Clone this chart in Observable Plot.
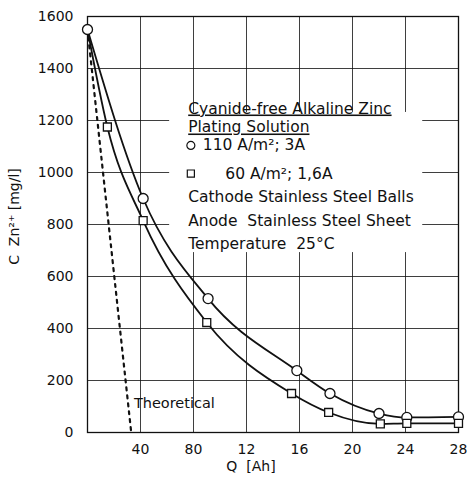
<!DOCTYPE html>
<html><head><meta charset="utf-8">
<script src="https://cdn.jsdelivr.net/npm/d3@7"></script>
<script src="https://cdn.jsdelivr.net/npm/@observablehq/plot@0.6"></script>
<style>body{margin:0;background:#fff} #chart{width:467px;height:481px}</style>
</head><body><div id="chart"></div>
<script>
// Axis ticks
const xTicks = [4, 8, 12, 16, 20, 24, 28];
const xTickLabels = ["40", "80", "12", "16", "20", "24", "28"];
const yTicks = [0, 200, 400, 600, 800, 1000, 1200, 1400, 1600];

// Series: 110 A/m², 3 A (circles)
const q110 = [0, 4.2, 9.1, 15.8, 18.3, 22, 24.1, 28];
const c110 = [1550, 900, 515, 238, 150, 73, 58, 60];
// Series: 60 A/m², 1.6 A (squares); first point is the common start (no marker)
const q60 = [0, 1.5, 4.2, 9.0, 15.4, 18.2, 22.1, 24.1, 28];
const c60 = [1550, 1175, 815, 423, 150, 77, 33, 35, 35];
// Theoretical line
const qTheo = [0, 3.3];
const cTheo = [1550, 0];

// Annotation texts
const legendLines = ["Cyanide-free Alkaline Zinc", "Plating Solution", "Cathode Stainless Steel Balls", "Anode  Stainless Steel Sheet", "Temperature  25°C"];
const legendQ = [7.6, 7.6, 7.6, 7.6, 7.6];
const legendC = [1246, 1173, 904, 812, 723];
const seriesLabels = ["110 A/m²; 3A", "60 A/m²; 1,6A"];
const seriesLabelQ = [8.7, 10.4];
const seriesLabelC = [1104, 996];
const seriesSymbols = ["circle", "square"];
const seriesSymbolQ = [7.8, 7.8];
const theoLabel = ["Theoretical"];
const theoLabelQ = [3.5];
const theoLabelC = [112];
const legendBoxQ = [6.2, 25.3];
const legendBoxC = [692, 1231];
const yLabel = "C  Zn²⁺ [mg/l]";
const xLabel = "Q  [Ah]";

const s110 = q110.map((q, i) => ({q, c: c110[i]}));
const s60 = q60.map((q, i) => ({q, c: c60[i]}));
const theo = qTheo.map((q, i) => ({q, c: cTheo[i]}));
const leg = legendLines.map((t, i) => ({t, q: legendQ[i], c: legendC[i]}));
const serLab = seriesLabels.map((t, i) => ({t, q: seriesLabelQ[i], c: seriesLabelC[i], sq: seriesSymbolQ[i], sym: seriesSymbols[i]}));

const FONT = "'DejaVu Sans', sans-serif";

const chart = Plot.plot({
  width: 467, height: 481,
  marginLeft: 87, marginRight: 9, marginTop: 16, marginBottom: 49,
  style: {fontFamily: FONT, fontSize: "14px", color: "#111", background: "#fff"},
  x: {domain: [0, 28], ticks: xTicks, tickFormat: d => xTickLabels[xTicks.indexOf(d)], tickSize: 0, tickPadding: 12, label: null},
  y: {domain: [0, 1600], ticks: yTicks, tickFormat: d => String(d), tickSize: 0, tickPadding: 14, label: null},
  marks: [
    Plot.gridX(xTicks.slice(0, -1), {stroke: "#111", strokeOpacity: 0.9, strokeWidth: 0.9}),
    Plot.gridY(yTicks.slice(1, -1), {stroke: "#111", strokeOpacity: 0.9, strokeWidth: 0.9}),
    Plot.rect([0], {x1: () => legendBoxQ[0], x2: () => legendBoxQ[1], y1: () => legendBoxC[0], y2: () => legendBoxC[1], fill: "white"}),
    Plot.frame({stroke: "#111", strokeWidth: 1.3}),
    Plot.line(theo, {x: "q", y: "c", stroke: "#111", strokeWidth: 2.2, strokeDasharray: "3,5"}),
    Plot.line(s110, {x: "q", y: "c", curve: "monotone-x", stroke: "#111", strokeWidth: 1.8}),
    Plot.line(s60, {x: "q", y: "c", curve: "monotone-x", stroke: "#111", strokeWidth: 1.8}),
    Plot.dot(s110, {x: "q", y: "c", symbol: "circle", r: 5, fill: "white", stroke: "#111", strokeWidth: 1.3}),
    Plot.dot(s60.slice(1), {x: "q", y: "c", symbol: "square", r: 4.5, fill: "white", stroke: "#111", strokeWidth: 1.3}),
    Plot.text(leg, {x: "q", y: "c", text: "t", textAnchor: "start", fontSize: 15.5, fill: "#111"}),
    Plot.dot(serLab, {x: "sq", y: "c", symbol: "sym", r: 4, fill: "white", stroke: "#111", strokeWidth: 1.2}),
    Plot.text(serLab, {x: "q", y: "c", text: "t", textAnchor: "start", fontSize: 15.5, fill: "#111"}),
    Plot.text(theoLabel, {x: () => theoLabelQ[0], y: () => theoLabelC[0], text: d => d, textAnchor: "start", fontSize: 14.5, fill: "#111"}),
    Plot.text([yLabel], {frameAnchor: "left", textAnchor: "middle", dx: -73, dy: -8, rotate: -90, text: d => d, fontSize: 14, fill: "#111"}),
    Plot.text([xLabel], {frameAnchor: "bottom", textAnchor: "middle", dx: -22, dy: 38, text: d => d, fontSize: 14, fill: "#111"})
  ]
});
document.getElementById("chart").appendChild(chart);
// underline first two heading lines
chart.querySelectorAll("text").forEach(t => {
  if (t.textContent === legendLines[0] || t.textContent === legendLines[1]) t.setAttribute("text-decoration", "underline");
});
</script>
</body></html>
